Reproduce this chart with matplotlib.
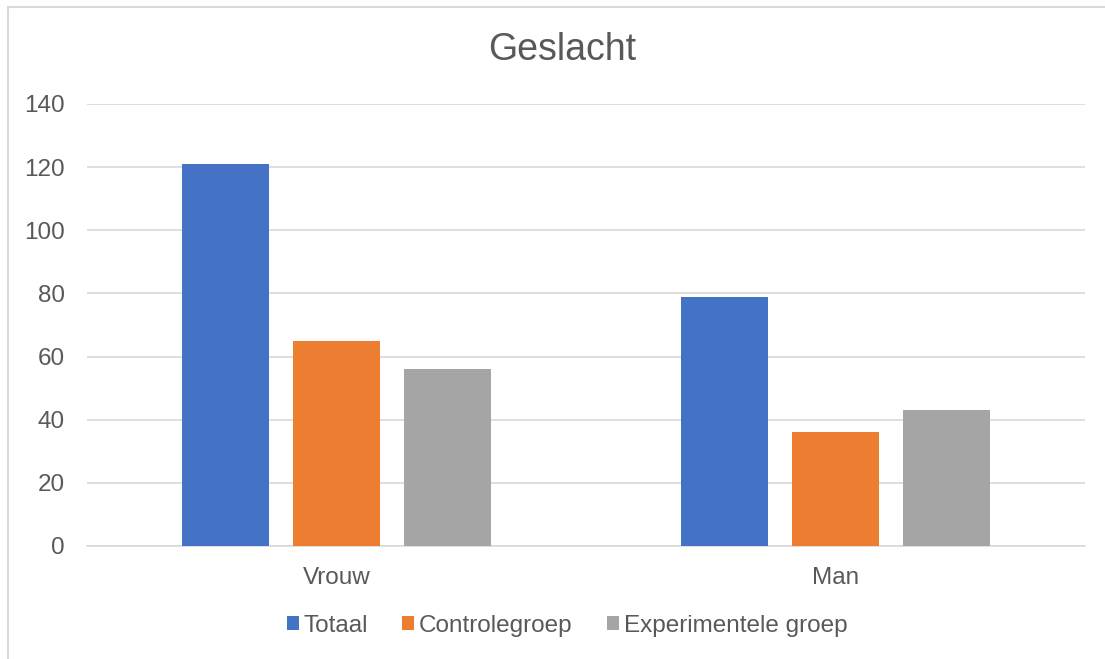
import matplotlib.pyplot as plt
import numpy as np
from matplotlib.patches import Rectangle

plt.rcParams["font.family"] = ["Liberation Sans", "DejaVu Sans"]

categories = ["Vrouw", "Man"]
series_names = ["Totaal", "Controlegroep", "Experimentele groep"]
totaal = [121, 79]
controle = [65, 36]
experimenteel = [56, 43]
colors = ["#4472C4", "#ED7D31", "#A5A5A5"]
text_color = "#595959"
grid_color = "#D9D9D9"

fig = plt.figure(figsize=(11.05, 6.59), dpi=100)
ax = fig.add_axes([87 / 1105, 113 / 659, 998 / 1105, 442 / 659])

# chart border (cropped at right and bottom like the original)
fig.patches.append(Rectangle((8 / 1105, -0.1), 1.2, (659 - 7) / 659 + 0.1,
                             transform=fig.transFigure, fill=False,
                             edgecolor=grid_color, linewidth=1.5))

x = np.arange(len(categories))
width = 0.176
offset = 0.2224
for i, (vals, name) in enumerate(zip([totaal, controle, experimenteel], series_names)):
    ax.bar(x + (i - 1) * offset, vals, width, color=colors[i], label=name, zorder=3)

ax.set_xlim(-0.5, 1.5)
ax.set_ylim(0, 140)
ax.set_yticks(range(0, 141, 20))
ax.set_xticks(x)
ax.set_xticklabels(categories)
ax.tick_params(axis="both", length=0, labelsize=17.5, colors=text_color)
ax.tick_params(axis="x", pad=15)
ax.tick_params(axis="y", pad=16)
ax.grid(axis="y", color=grid_color, linewidth=1.2, zorder=0)
for side in ["left", "right", "top"]:
    ax.spines[side].set_visible(False)
ax.spines["bottom"].set_color(grid_color)
ax.spines["bottom"].set_linewidth(1.2)

fig.text(562 / 1105, 1 - 50 / 659, "Geslacht", ha="center", va="center",
         fontsize=27, color=text_color)

fig.legend(loc="center", bbox_to_anchor=(567 / 1105, 1 - 626 / 659), ncol=3,
           frameon=False, fontsize=17.5, labelcolor=text_color,
           handlelength=0.5, handleheight=0.5, handletextpad=0.2,
           columnspacing=1.4)

fig.savefig("out.png", dpi=100)
